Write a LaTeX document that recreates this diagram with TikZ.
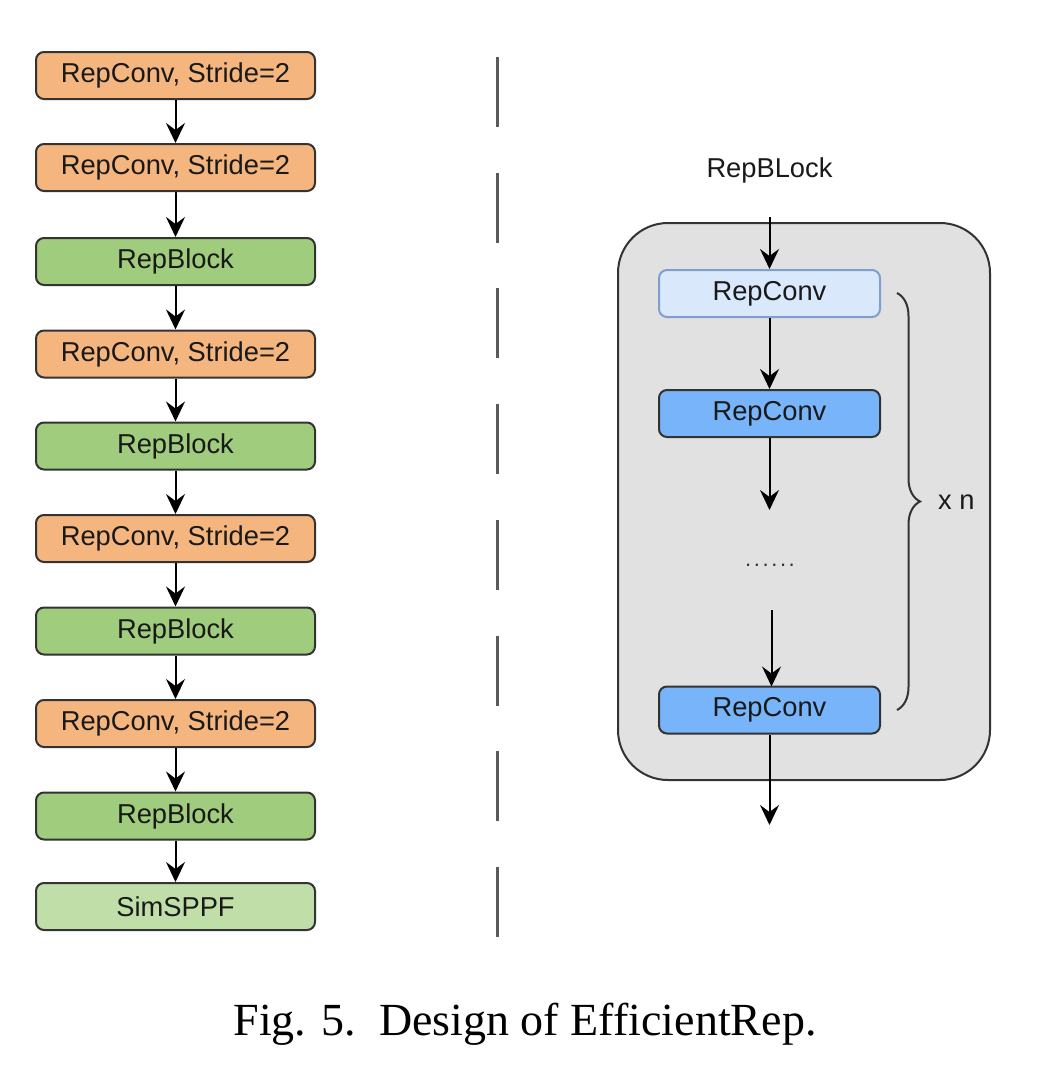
\documentclass[tikz,border=0pt]{standalone}
\usepackage{fontspec}
\setmainfont{Liberation Serif}
\setsansfont{Liberation Sans}
\usetikzlibrary{arrows.meta,decorations.pathreplacing}
\definecolor{orangefill}{HTML}{F4B67E}
\definecolor{greenfill}{HTML}{A0CC7D}
\definecolor{lgreenfill}{HTML}{C0DEA8}
\definecolor{lbluefill}{HTML}{DAE8FC}
\definecolor{lbluedraw}{HTML}{7E9FCF}
\definecolor{bluefill}{HTML}{78B4F9}
\definecolor{boxdraw}{HTML}{333333}
\definecolor{contfill}{HTML}{E1E1E1}
\definecolor{sepgray}{HTML}{5A5A5A}
\begin{document}
\begin{tikzpicture}[x=1pt,y=-1pt,
  blk/.style={draw=boxdraw, line width=2pt, rounded corners=8pt, minimum width=279pt, minimum height=47pt, inner sep=0pt,
    font=\sffamily\fontsize{27.3}{32}\selectfont, text=black!90},
  rblk/.style={blk, minimum width=221pt},
  orangebox/.style={blk, fill=orangefill},
  greenbox/.style={blk, fill=greenfill},
  lgreenbox/.style={blk, fill=lgreenfill},
  lbluebox/.style={rblk, fill=lbluefill, draw=lbluedraw},
  bluebox/.style={rblk, fill=bluefill},
  lbl/.style={font=\sffamily\fontsize{27.3}{32}\selectfont, text=black!90, inner sep=0pt},
  arr/.style={-{Stealth[length=20pt,width=19pt,inset=7pt]}, line width=2pt, black}
]
\useasboundingbox (0,0) rectangle (1046,1090);
\fill[white] (0,0) rectangle (1046,1090);

% left column
\node[orangebox] (b1) at (175.5,75.5) {RepConv, Stride=2};
\node[orangebox] (b2) at (175.5,167.5) {RepConv, Stride=2};
\node[greenbox]  (b3) at (175.5,261.5) {RepBlock};
\node[orangebox] (b4) at (175.5,354) {RepConv, Stride=2};
\node[greenbox]  (b5) at (175.5,446) {RepBlock};
\node[orangebox] (b6) at (175.5,538.5) {RepConv, Stride=2};
\node[greenbox]  (b7) at (175.5,631) {RepBlock};
\node[orangebox] (b8) at (175.5,723.5) {RepConv, Stride=2};
\node[greenbox]  (b9) at (175.5,816) {RepBlock};
\node[lgreenbox] (b10) at (175.5,906.5) {SimSPPF};
\foreach \a/\b in {b1/b2,b2/b3,b3/b4,b4/b5,b5/b6,b6/b7,b7/b8,b8/b9,b9/b10}
  \draw[arr] (\a.south) -- (\b.north);

% separator
\coordinate (s1) at (497,57);
\coordinate (s2) at (497,937);
\draw[sepgray, line width=3pt, dash pattern=on 70pt off 45.7pt] (s1) -- (s2);

% right block
\node[draw=boxdraw, line width=2pt, fill=contfill, rounded corners=50pt, minimum width=372pt, minimum height=557pt, inner sep=0pt] (cont) at (804,501.5) {};
\node[lbl] (title) at (769.5,170) {RepBLock};
\node[lbluebox] (r1) at (769.5,293.5) {RepConv};
\node[bluebox]  (r2) at (769.5,413.5) {RepConv};
\node[font=\sffamily\fontsize{22}{26}\selectfont, text=black!80, inner sep=0pt, anchor=base] (dots) at (770,566) {.\kern2.6pt.\kern2.6pt.\kern2.6pt.\kern2.6pt.\kern2.6pt.};
\node[bluebox]  (r3) at (769.5,710) {RepConv};
\coordinate (in) at (769.5,217);
\coordinate (d1) at (769.5,510);
\coordinate (d2) at (771.5,610);
\coordinate (out) at (769.5,825);
\draw[arr] (in) -- (r1.north);
\draw[arr] (r1.south) -- (r2.north);
\draw[arr] (r2.south) -- (d1);
\draw[arr] (d2) -- (771.5,686.5);
\draw[arr] (r3.south) -- (out);

% brace
\coordinate (bt) at (897,293);
\coordinate (bb) at (897,710);
\draw[boxdraw, line width=2pt, decorate, decoration={brace, amplitude=23pt}] (bt) -- (bb);
\node[lbl, anchor=west] (xn) at (938,502) {x n};

% caption
\node[font=\fontsize{46}{50}\selectfont, inner sep=0pt, anchor=base] (cap) at (525,1035) {Fig. 5.\ \ Design of EfficientRep.};
\end{tikzpicture}
\end{document}
